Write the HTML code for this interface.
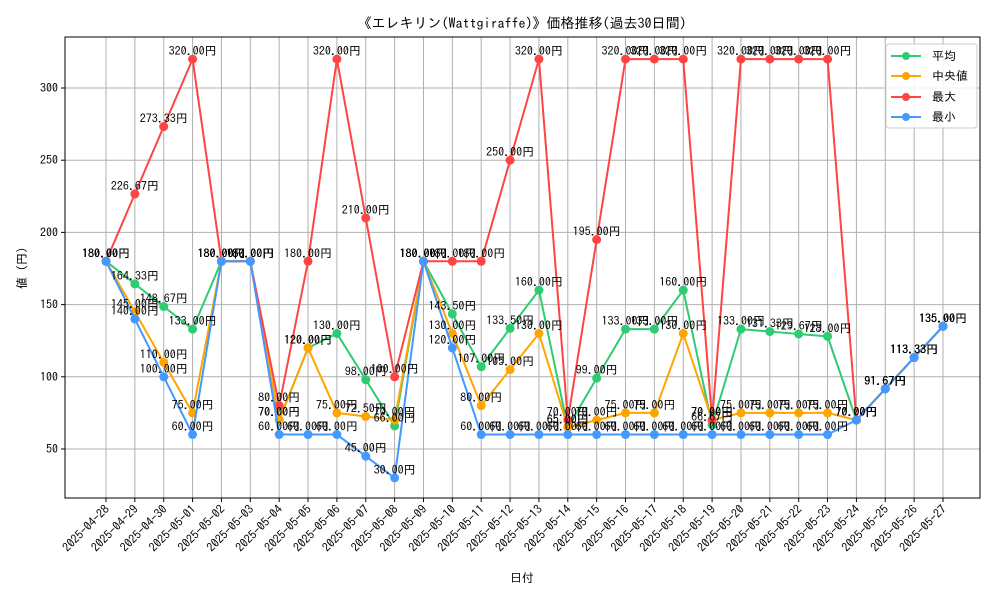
<!DOCTYPE html>
<html><head><meta charset="utf-8">
<style>
html,body{margin:0;padding:0;background:#fff;}
svg text{font-family:"IPAGothic","Liberation Sans","Noto Sans CJK JP",sans-serif;}
</style></head>
<body>
<svg id="chart" width="1000" height="600" viewBox="0 0 1000 600" xmlns="http://www.w3.org/2000/svg">
<rect width="1000" height="600" fill="#fff"/>
<text x="522" y="28" text-anchor="middle" font-size="14">《エレキリン(Wattgiraffe)》価格推移(過去30日間)</text>
<g id="grid"></g>
<g id="axes"></g>
<g id="series"></g>
<g id="labels"></g>
<text x="522" y="582" text-anchor="middle" font-size="12">日付</text>
<text x="0" y="0" transform="translate(26,268) rotate(-90)" text-anchor="middle" font-size="12">値 (円)</text>
<g>
<rect x="886" y="44" width="91" height="84" rx="3" fill="#fff" fill-opacity="0.85" stroke="#ccc"/>
<line x1="891" y1="56" x2="921" y2="56" stroke="#2ecc71" stroke-width="2"/><circle cx="906" cy="56" r="4" fill="#2ecc71"/>
<text x="932" y="60" font-size="12">平均</text>
<line x1="891" y1="76" x2="921" y2="76" stroke="#ffa500" stroke-width="2"/><circle cx="906" cy="76" r="4" fill="#ffa500"/>
<text x="932" y="80" font-size="12"> 中央値</text>
<line x1="891" y1="97" x2="921" y2="97" stroke="#ff4444" stroke-width="2"/><circle cx="906" cy="97" r="4" fill="#ff4444"/>
<text x="932" y="101" font-size="12">最大</text>
<line x1="891" y1="117" x2="921" y2="117" stroke="#4499ff" stroke-width="2"/><circle cx="906" cy="117" r="4" fill="#4499ff"/>
<text x="932" y="121" font-size="12">最小</text>
</g>
</svg>
<script>
const dates = ["2025-04-28","2025-04-29","2025-04-30","2025-05-01","2025-05-02","2025-05-03","2025-05-04","2025-05-05","2025-05-06","2025-05-07","2025-05-08","2025-05-09","2025-05-10","2025-05-11","2025-05-12","2025-05-13","2025-05-14","2025-05-15","2025-05-16","2025-05-17","2025-05-18","2025-05-19","2025-05-20","2025-05-21","2025-05-22","2025-05-23","2025-05-24","2025-05-25","2025-05-26","2025-05-27"];
const avgValues = [180,164.33,148.67,133,180,180,70,120,130,98,66,180,143.5,107,133.5,160,65,99,133,133,160,66.67,133,131.33,129.67,128,70,91.67,113.33,135];
const medianValues = [180,145,110,75,180,180,70,120,75,72.5,70,180,130,80,105,130,65,70,75,75,130,70,75,75,75,75,70,91.67,113.33,135];
const maxValues = [180,226.67,273.33,320,180,180,80,180,320,210,100,180,180,180,250,320,70,195,320,320,320,70,320,320,320,320,70,91.67,113.33,135];
const minValues = [180,140,100,60,180,180,60,60,60,45,30,180,120,60,60,60,60,60,60,60,60,60,60,60,60,60,70,91.67,113.33,135];
const yTicks = [50,100,150,200,250,300];

const NS="http://www.w3.org/2000/svg";
const L=65,R=980,T=37,B=498;
const xs=i=>106+i*(943-106)/(dates.length-1);
const ys=v=>449-(v-50)*(449-88)/250;
function mk(tag,attrs,parent){const e=document.createElementNS(NS,tag);for(const k in attrs)e.setAttribute(k,attrs[k]);parent.appendChild(e);return e;}
const grid=document.getElementById('grid'),axes=document.getElementById('axes'),ser=document.getElementById('series'),lab=document.getElementById('labels');
dates.forEach((d,i)=>{
  const x=xs(i);
  const g=mk('line',{x1:x,y1:T,x2:x,y2:B,stroke:'#b0b0b0','stroke-width':1},grid);
  
  
  mk('line',{x1:x,y1:B,x2:x,y2:B+4,stroke:'#000'},axes);
  const t=mk('text',{x:0,y:0,'font-size':12,'text-anchor':'end',transform:`translate(${x+4},${B+12}) rotate(-45)`},axes);
  t.textContent=d;
  
  
});
yTicks.forEach(v=>{
  const y=ys(v);
  const g=mk('line',{x1:L,y1:y,x2:R,y2:y,stroke:'#b0b0b0','stroke-width':1},grid);
  
  
  mk('line',{x1:L-4,y1:y,x2:L,y2:y,stroke:'#000'},axes);
  const t=mk('text',{x:L-7,y:y+4,'font-size':12,'text-anchor':'end'},axes);
  t.textContent=v;
  
  
});
const frame=mk('rect',{x:L,y:T,width:R-L,height:B-T,fill:'none',stroke:'#000','stroke-width':1},axes);


const seriesList=[["avg",avgValues,"#2ecc71"],["median",medianValues,"#ffa500"],["max",maxValues,"#ff4444"],["min",minValues,"#4499ff"]];
seriesList.forEach(([name,vals,color])=>{
  const pts=vals.map((v,i)=>xs(i)+','+ys(v)).join(' ');
  const pl=mk('polyline',{points:pts,fill:'none',stroke:color,'stroke-width':2},ser);
  
  
  vals.forEach((v,i)=>{
    const c=mk('circle',{cx:xs(i),cy:ys(v),r:4.5,fill:color},ser);
    
    
    const t=mk('text',{x:xs(i),y:ys(v)-4,'font-size':12,'text-anchor':'middle',fill:'#000'},lab);
    t.textContent=v.toFixed(2)+'円';
    
    
  });
});
</script>
</body></html>
